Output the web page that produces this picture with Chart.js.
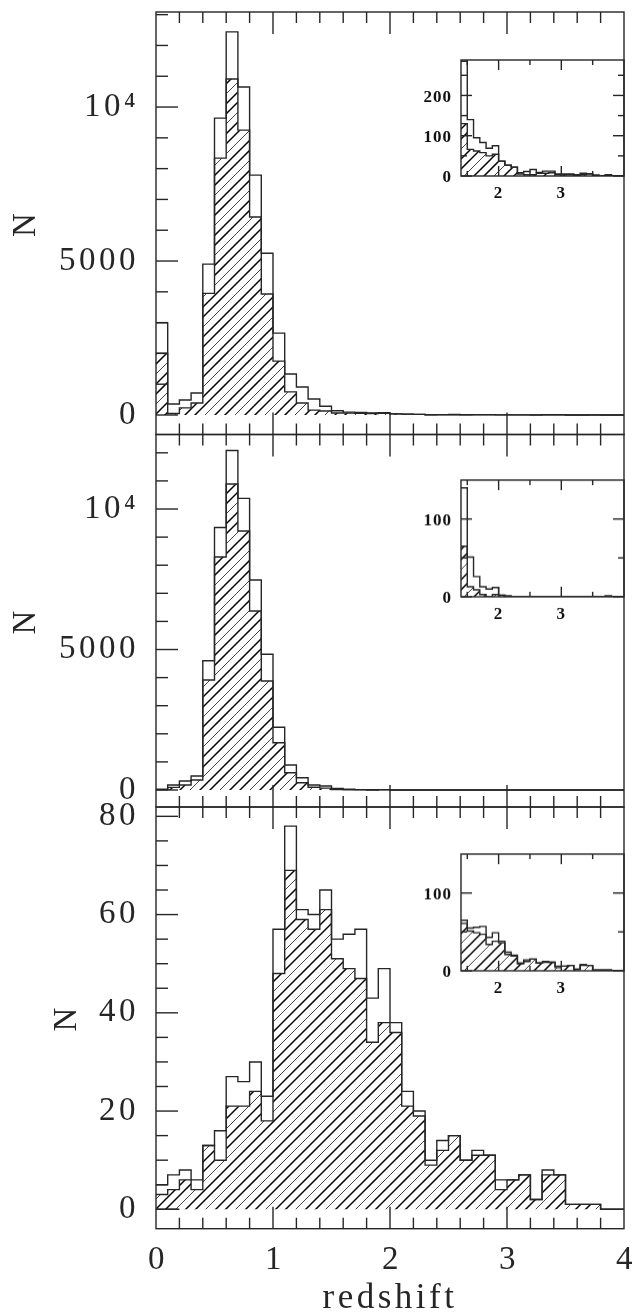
<!DOCTYPE html>
<html>
<head>
<meta charset="utf-8">
<script src="https://cdn.jsdelivr.net/npm/chart.js@4"></script>
<style>
  html, body { margin: 0; padding: 0; background: #fff; }
  body { position: relative; width: 635px; height: 1312px; overflow: hidden; }
  canvas { position: absolute; }
</style>
</head>
<body>
<script>
// bin edges of the redshift histogram
const binEdges = [0, 0.1, 0.2, 0.3, 0.4, 0.5, 0.6, 0.7, 0.8, 0.9, 1, 1.1, 1.2, 1.3, 1.4, 1.5, 1.6, 1.7, 1.8, 1.9,
    2, 2.1, 2.2, 2.3, 2.4, 2.5, 2.6, 2.7, 2.8, 2.9, 3, 3.1, 3.2, 3.3, 3.4, 3.5, 3.6, 3.7, 3.8, 3.9, 4];

// top panel
const topTotal = [2990, 357, 487, 714, 4900, 9640, 12440, 10650, 7790, 5250, 2660, 1330, 910, 520, 285, 140, 95, 83, 69, 75,
    37, 27, 22, 8, 11, 16, 9, 12, 12, 5, 5, 5, 3, 7, 6, 2, 1, 3, 1, 0];
const topHatched = [2010, 50, 230, 390, 3950, 8340, 10910, 9250, 6430, 3930, 1750, 750, 390, 160, 130, 66, 62, 58, 50, 54,
    37, 27, 22, 5, 3, 3, 7, 7, 8, 3, 3, 3, 1, 3, 5, 2, 1, 2, 0, 0];

// middle panel
const midTotal = [30, 178, 320, 498, 4600, 9340, 12080, 10380, 7476, 4830, 2232, 890, 438, 178, 140, 51, 26, 13, 10, 12,
    2, 1, 0, 0, 0, 0, 0, 0, 0, 0, 0, 0, 0, 0, 0, 0, 0, 1, 0, 0];
const midHatched = [10, 95, 180, 356, 3916, 8290, 10890, 9220, 6372, 3880, 1684, 616, 260, 100, 65, 13, 9, 3, 0, 3,
    2, 1, 0, 0, 0, 0, 0, 0, 0, 0, 0, 0, 0, 0, 0, 0, 0, 1, 0, 0];

// bottom panel
const lowTotal = [5, 7, 8, 6, 13, 16, 27, 26, 30, 23, 57, 78, 61, 60, 65, 55, 56, 57, 43, 49,
    38, 24, 20, 10, 14, 15, 10, 12, 11, 6, 6, 7, 2, 8, 7, 1, 1, 1, 0, 0];
const lowHatched = [3, 4, 6, 4, 13, 10, 21, 21, 24, 18, 48, 69, 59, 57, 61, 51, 49, 47, 34, 38,
    36, 21, 19, 9, 12, 15, 10, 11, 11, 4, 6, 7, 2, 7, 7, 1, 1, 1, 0, 0];
const lowBase = [0, 0]; // short line on the zero level at the left end

// tick labels and tick marks
const xLabels = [0, 1, 2, 3, 4];
const xMajor = [1, 2, 3];
const xMinor = [0.2, 0.4, 0.6, 0.8, 1.2, 1.4, 1.6, 1.8, 2.2, 2.4, 2.6, 2.8, 3.2, 3.4, 3.6, 3.8];
const topLabels = [0, 5000, 10000];
const topMinor = [1000, 2000, 3000, 4000, 6000, 7000, 8000, 9000, 11000, 12000, 13000];
const midLabels = [0, 5000, 10000];
const midMinor = [1000, 2000, 3000, 4000, 6000, 7000, 8000, 9000, 11000, 12000];
const lowLabels = [0, 20, 40, 60, 80];
const lowMinor = [5, 10, 15, 25, 30, 35, 45, 50, 55, 65, 70, 75];

const insetXLabels = [2, 3];
const insetXMinor = [1.5, 2.5, 3.5];
const insetTopLabels = [0, 100, 200];
const insetTopMinor = [50, 150, 250];
const insetLabels = [0, 100];
const insetMinor = [50];

const INK = '#262626';
const SERIF = '"Liberation Serif", serif';

// diagonal hatching, two heavy strokes and a light one
function makeHatch() {
    const tile = document.createElement('canvas');
    tile.width = 30;
    tile.height = 30;
    const c = tile.getContext('2d');
    [[0, 1.5, '#000'], [10, 1.5, '#000'], [20, 1.0, '#444']].forEach(([start, width, colour]) => {
        c.lineWidth = width;
        c.strokeStyle = colour;
        for (let k = -30; k <= 60; k += 30) {
            c.beginPath();
            c.moveTo(start + k - 2, 32);
            c.lineTo(start + k + 32, -2);
            c.stroke();
        }
    });
    return c.createPattern(tile, 'repeat');
}
const hatch = makeHatch();

function histPoints(values, first) {
    const pts = values.map((v, i) => ({ x: binEdges[first + i], y: v }));
    pts.push({ x: binEdges[first + values.length], y: values[values.length - 1] });
    return pts;
}

// no extra room for labels that stick out past the plot area
function noMargins(s) {
    s.paddingTop = 0;
    s.paddingBottom = 0;
    s.paddingLeft = 0;
    s.paddingRight = 0;
}

// frame and inward ticks, positions come from the chart's scales
const frameTicks = {
    id: 'frameTicks',
    beforeDraw(chart, args, opts) {
        chart.ctx.letterSpacing = opts.spacing + 'px';
    },
    afterDatasetsDraw(chart, args, opts) {
        const ctx = chart.ctx, a = chart.chartArea;
        const xs = chart.scales.x, ys = chart.scales.y;
        ctx.save();
        ctx.strokeStyle = INK;
        ctx.lineWidth = 1.4;
        ctx.strokeRect(a.left, a.top, a.right - a.left, a.bottom - a.top);
        const seg = (x1, y1, x2, y2) => {
            ctx.beginPath();
            ctx.moveTo(x1, y1);
            ctx.lineTo(x2, y2);
            ctx.stroke();
        };
        const xMark = (v, len) => {
            const px = xs.getPixelForValue(v);
            seg(px, a.bottom, px, a.bottom - len);
            seg(px, a.top, px, a.top + len);
        };
        const yMark = (v, len, rightLen) => {
            const py = ys.getPixelForValue(v);
            seg(a.left, py, a.left + len, py);
            if (opts.rightSide) seg(a.right, py, a.right - rightLen, py);
        };
        opts.xMajor.forEach(v => xMark(v, opts.xLong));
        opts.xMinor.forEach(v => xMark(v, opts.xShort));
        opts.yMajor.forEach(v => yMark(v, opts.yLong, opts.yLong));
        opts.yMinor.forEach(v => yMark(v, opts.yShort, opts.yShort));
        ctx.restore();
    }
};

function addCanvas(left, top, width, height) {
    const cv = document.createElement('canvas');
    cv.width = width;
    cv.height = height;
    cv.style.left = left + 'px';
    cv.style.top = top + 'px';
    cv.style.width = width + 'px';
    cv.style.height = height + 'px';
    document.body.appendChild(cv);
    return cv;
}

function histDatasets(total, hatched, first, extra) {
    const sets = [
        { data: histPoints(total, first), stepped: true, borderColor: INK, borderWidth: 1.4, pointRadius: 0, fill: false },
        { data: histPoints(hatched, first), stepped: true, borderColor: INK, borderWidth: 1.4, pointRadius: 0,
          fill: { value: 0 }, backgroundColor: hatch }
    ];
    if (extra) {
        sets.push({ data: histPoints(extra, first), stepped: true, borderColor: INK, borderWidth: 1.4, pointRadius: 0, fill: false });
    }
    return sets;
}

function mainPanel(cfg) {
    const cv = addCanvas(0, cfg.canvasTop, 635, cfg.canvasHeight);
    return new Chart(cv.getContext('2d'), {
        type: 'line',
        data: { datasets: histDatasets(cfg.total, cfg.hatched, 0, cfg.extra) },
        options: {
            responsive: false,
            animation: false,
            devicePixelRatio: 1,
            layout: { padding: { left: 0, right: 11, top: cfg.areaTop - cfg.canvasTop, bottom: cfg.showX ? 0 : cfg.canvasTop + cfg.canvasHeight - cfg.areaBottom } },
            plugins: {
                legend: { display: false },
                tooltip: { enabled: false },
                frameTicks: {
                    spacing: 3.5, rightSide: false,
                    xMajor: xMajor, xMinor: xMinor, xLong: 22, xShort: 11,
                    yMajor: cfg.labels, yMinor: cfg.minor, yLong: 22, yShort: 12
                }
            },
            scales: {
                x: {
                    type: 'linear', min: 0, max: 4,
                    display: cfg.showX,
                    grid: { display: false, drawTicks: false },
                    border: { display: false },
                    afterBuildTicks: s => { s.ticks = xLabels.map(v => ({ value: v })); },
                    afterFit: s => {
                        if (cfg.showX) s.height = cfg.canvasTop + cfg.canvasHeight - cfg.areaBottom;
                        noMargins(s);
                    },
                    ticks: { color: INK, font: { family: SERIF, size: 33 }, padding: 12, labelOffset: 2, maxRotation: 0, autoSkip: false },
                    title: { display: true, text: 'redshift', color: INK, font: { family: SERIF, size: 35, lineHeight: 0.75 }, padding: 0 }
                },
                y: {
                    min: cfg.yMin, max: cfg.yMax,
                    grid: { display: false, drawTicks: false },
                    border: { display: false },
                    afterBuildTicks: s => { s.ticks = cfg.labels.map(v => ({ value: v })); },
                    afterFit: s => { s.width = 156; noMargins(s); },
                    ticks: {
                        color: INK, font: { family: SERIF, size: 33 }, padding: 17, autoSkip: false,
                        callback: v => (v === 10000 ? '10\u2074' : String(v))
                    },
                    title: { display: true, text: 'N', color: INK, font: { family: SERIF, size: 33, lineHeight: 1 }, padding: { top: cfg.nOffset, bottom: 0 } }
                }
            }
        },
        plugins: [frameTicks]
    });
}

function insetPanel(cfg) {
    const cv = addCanvas(420, cfg.areaTop - 10, 215, cfg.areaBottom - cfg.areaTop + 40);
    return new Chart(cv.getContext('2d'), {
        type: 'line',
        data: { datasets: histDatasets(cfg.total.slice(14), cfg.hatched.slice(14), 14) },
        options: {
            responsive: false,
            animation: false,
            devicePixelRatio: 1,
            layout: { padding: { left: 0, right: 11, top: 10, bottom: 0 } },
            plugins: {
                legend: { display: false },
                tooltip: { enabled: false },
                frameTicks: {
                    spacing: 1, rightSide: true,
                    xMajor: insetXLabels, xMinor: insetXMinor, xLong: 10, xShort: 5,
                    yMajor: cfg.labels, yMinor: cfg.minor, yLong: 11, yShort: 6
                }
            },
            scales: {
                x: {
                    type: 'linear', min: 1.4, max: 4,
                    grid: { display: false, drawTicks: false },
                    border: { display: false },
                    afterBuildTicks: s => { s.ticks = insetXLabels.map(v => ({ value: v })); },
                    afterFit: s => { s.height = 30; noMargins(s); },
                    ticks: { color: '#111', font: { family: SERIF, size: 17, weight: 'bold' }, padding: 7, maxRotation: 0, autoSkip: false }
                },
                y: {
                    min: 0, max: cfg.yMax,
                    grid: { display: false, drawTicks: false },
                    border: { display: false },
                    afterBuildTicks: s => { s.ticks = cfg.labels.map(v => ({ value: v })); },
                    afterFit: s => { s.width = 41; noMargins(s); },
                    ticks: { color: '#111', font: { family: SERIF, size: 17, weight: 'bold' }, padding: 9, labelOffset: 2, autoSkip: false }
                }
            }
        },
        plugins: [frameTicks]
    });
}

mainPanel({ canvasTop: 0, canvasHeight: 450, areaTop: 12, areaBottom: 434.5, yMin: -633, yMax: 13086,
    total: topTotal, hatched: topHatched, labels: topLabels, minor: topMinor, showX: false, nOffset: 10 });
mainPanel({ canvasTop: 420, canvasHeight: 400, areaTop: 434.5, areaBottom: 807, yMin: -605, yMax: 12652,
    total: midTotal, hatched: midHatched, labels: midLabels, minor: midMinor, showX: false, nOffset: 10 });
mainPanel({ canvasTop: 795, canvasHeight: 517, areaTop: 807, areaBottom: 1228.7, yMin: -3.95, yMax: 81.9,
    total: lowTotal, hatched: lowHatched, extra: lowBase, labels: lowLabels, minor: lowMinor, showX: true, nOffset: 51 });

insetPanel({ areaTop: 60, areaBottom: 176, yMax: 288, total: topTotal, hatched: topHatched, labels: insetTopLabels, minor: insetTopMinor });
insetPanel({ areaTop: 480, areaBottom: 596.7, yMax: 150, total: midTotal, hatched: midHatched, labels: insetLabels, minor: insetMinor });
insetPanel({ areaTop: 854.3, areaBottom: 971, yMax: 150, total: lowTotal, hatched: lowHatched, labels: insetLabels, minor: insetMinor });
</script>
</body>
</html>
